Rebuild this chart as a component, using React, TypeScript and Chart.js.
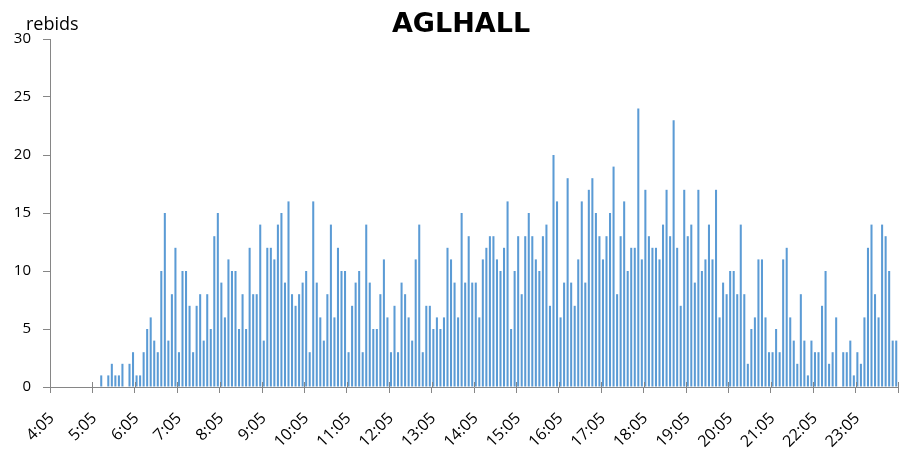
import React, { useEffect, useRef } from 'react';
import { Chart, registerables } from 'chart.js';

Chart.register(...registerables);

const chartTitle = 'AGLHALL';
const yAxisTitle = 'rebids';

const hourLabels = [
  '4:05', '5:05', '6:05', '7:05', '8:05', '9:05', '10:05', '11:05', '12:05', '13:05',
  '14:05', '15:05', '16:05', '17:05', '18:05', '19:05', '20:05', '21:05', '22:05', '23:05',
];

const minuteSlots = ['05', '10', '15', '20', '25', '30', '35', '40', '45', '50', '55', '00'];

const categories: string[] = [];
for (let h = 4; h <= 23; h++) {
  for (const m of minuteSlots) {
    categories.push(m === '00' ? `${h + 1}:00` : `${h}:${m}`);
  }
}

// 5-minute counts, one row per hour (4:05 .. 24:00)
const rebids = [
  0, 0, 0, 0, 0, 0, 0, 0, 0, 0, 0, 0,
  0, 0, 1, 0, 1, 2, 1, 1, 2, 0, 2, 3,
  1, 1, 3, 5, 6, 4, 3, 10, 15, 4, 8, 12,
  3, 10, 10, 7, 3, 7, 8, 4, 8, 5, 13, 15,
  9, 6, 11, 10, 10, 5, 8, 5, 12, 8, 8, 14,
  4, 12, 12, 11, 14, 15, 9, 16, 8, 7, 8, 9,
  10, 3, 16, 9, 6, 4, 8, 14, 6, 12, 10, 10,
  3, 7, 9, 10, 3, 14, 9, 5, 5, 8, 11, 6,
  3, 7, 3, 9, 8, 6, 4, 11, 14, 3, 7, 7,
  5, 6, 5, 6, 12, 11, 9, 6, 15, 9, 13, 9,
  9, 6, 11, 12, 13, 13, 11, 10, 12, 16, 5, 10,
  13, 8, 13, 15, 13, 11, 10, 13, 14, 7, 20, 16,
  6, 9, 18, 9, 7, 11, 16, 9, 17, 18, 15, 13,
  11, 13, 15, 19, 8, 13, 16, 10, 12, 12, 24, 11,
  17, 13, 12, 12, 11, 14, 17, 13, 23, 12, 7, 17,
  13, 14, 9, 17, 10, 11, 14, 11, 17, 6, 9, 8,
  10, 10, 8, 14, 8, 2, 5, 6, 11, 11, 6, 3,
  3, 5, 3, 11, 12, 6, 4, 2, 8, 4, 1, 4,
  3, 3, 7, 10, 2, 3, 6, 0, 3, 3, 4, 1,
  3, 2, 6, 12, 14, 8, 6, 14, 13, 10, 4, 4,
];

const yTicks = [0, 5, 10, 15, 20, 25, 30];

const AXIS = '#868686';
const BAR = '#5B9BD5';
const FONT = "'Open Sans', sans-serif";

const textPlugin = {
  id: 'textPlugin',
  afterDraw(chart: any) {
    const ctx = chart.ctx;
    ctx.save();
    ctx.fillStyle = '#000';
    ctx.textAlign = 'center';
    ctx.textBaseline = 'alphabetic';
    ctx.font = "bold 27px 'DejaVu Sans', sans-serif";
    ctx.fillText(chartTitle, 461, 32);
    ctx.textAlign = 'left';
    ctx.font = `18px ${FONT}`;
    ctx.fillText(yAxisTitle, 26, 30);
    // tick marks crossing the category axis
    const xs = chart.scales.x;
    const n = categories.length;
    ctx.strokeStyle = AXIS;
    ctx.lineWidth = 1;
    ctx.beginPath();
    for (let i = 0; i <= n; i += 12) {
      const px = Math.round(xs.left + ((xs.right - xs.left) * i) / n) + 0.5;
      ctx.moveTo(px, xs.top - 5);
      ctx.lineTo(px, xs.top);
    }
    ctx.stroke();
    ctx.restore();
  },
};

export default function App() {
  const ref = useRef<HTMLCanvasElement>(null);
  useEffect(() => {
    if (!ref.current) return;
    const chart = new Chart(ref.current, {
      type: 'bar',
      data: {
        labels: categories,
        datasets: [
          {
            data: rebids,
            backgroundColor: BAR,
            borderWidth: 0,
            barPercentage: 0.58,
            categoryPercentage: 1,
          },
        ],
      },
      options: {
        animation: false,
        responsive: true,
        maintainAspectRatio: false,
        layout: { padding: { top: 39, left: 0, right: 3, bottom: 0 } },
        plugins: {
          legend: { display: false },
          title: { display: false },
          tooltip: { enabled: false },
        },
        scales: {
          x: {
            afterFit: (s: any) => {
              s.height = 62;
              s.paddingLeft = 0;
              s.paddingRight = 0;
            },
            border: { color: AXIS, width: 1 },
            grid: {
              drawOnChartArea: false,
              tickLength: 6,
              tickColor: (c: any) =>
                c.index === undefined || c.index % 12 === 0 ? AXIS : 'rgba(0,0,0,0)',
            },
            ticks: {
              autoSkip: false,
              minRotation: 45,
              maxRotation: 45,
              padding: 16,
              color: '#000',
              font: { family: FONT, size: 16 },
              callback: (_v: any, i: number) => (i % 12 === 0 ? hourLabels[i / 12] : ''),
            },
          },
          y: {
            min: 0,
            max: 30,
            afterFit: (s: any) => {
              s.width = 50;
            },
            afterBuildTicks: (s: any) => {
              s.ticks = yTicks.map((v) => ({ value: v }));
            },
            border: { color: AXIS, width: 1 },
            grid: { drawOnChartArea: false, tickLength: 7, tickColor: AXIS },
            ticks: {
              padding: 12,
              color: '#000',
              font: { family: FONT, size: 15 },
            },
          },
        },
      },
      plugins: [textPlugin],
    });
    return () => chart.destroy();
  }, []);
  return (
    <div style={{ position: 'absolute', left: 0, top: 0, width: 901, height: 449, background: '#fff' }}>
      <canvas ref={ref} />
    </div>
  );
}
